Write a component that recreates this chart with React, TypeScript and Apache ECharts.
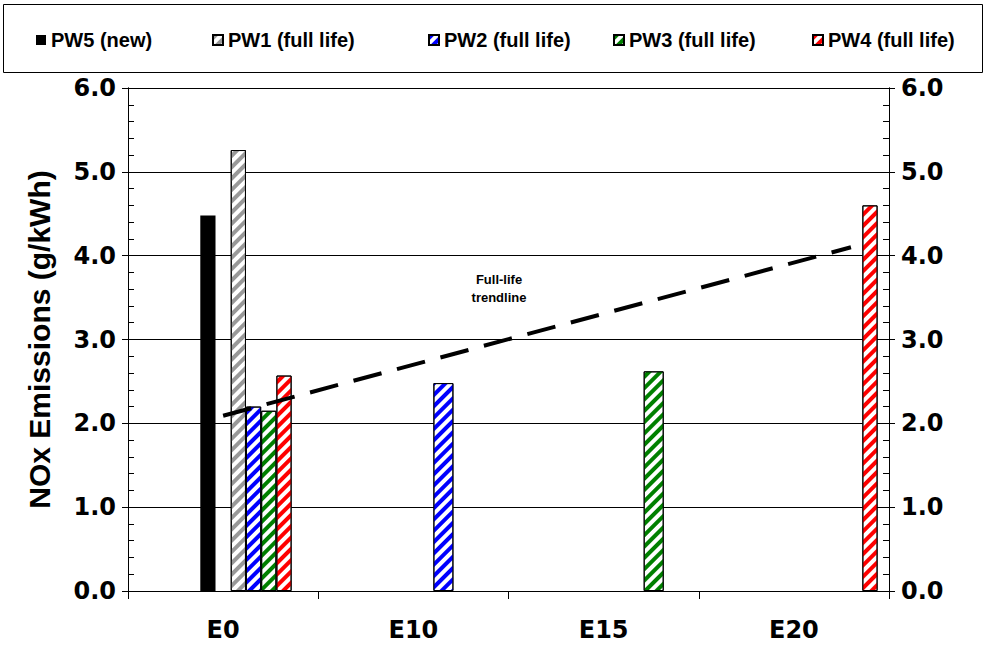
import React, { useEffect, useRef } from "react";
import * as echarts from "echarts";

// ---------- data ----------
const categories = ["E0", "E10", "E15", "E20"];
const pw5New = [4.48, null, null, null];
const pw1FullLife = [5.26, null, null, null];
const pw2FullLife = [2.2, 2.48, null, null];
const pw3FullLife = [2.15, null, 2.62, null];
const pw4FullLife = [2.57, null, null, 4.6];
// full-life trendline end points (x in category units, y in g/kWh)
const trendlineX = [0.5, 3.8];
const trendlineY = [2.09, 4.1];
const yMin = 0;
const yMax = 6;
const yStep = 1;

// ---------- layout ----------
const W = 985;
const H = 645;
const GRID = { left: 128, right: 96, top: 88, bottom: 54 };
const FONT = "'Liberation Sans', Arial, Helvetica, sans-serif";
const TICK_FONT = "'DejaVu Sans', 'Liberation Sans', Arial, sans-serif";
const catW = (W - GRID.left - GRID.right) / categories.length;
// Excel-like clustered layout (150% gap width): number of slots per cluster
const CLUSTERS: Record<string, { slots: number; axis: number }> = {
  narrow: { slots: 11, axis: 0 },
  wide: { slots: 8, axis: 1 },
};
// cluster & slot of each bar per category
const PLACEMENT: Record<string, ([string, number] | null)[]> = {
  "PW5 (new)": [["narrow", 4], null, null, null],
  "PW1 (full life)": [["narrow", 6], null, null, null],
  "PW2 (full life)": [["narrow", 7], ["wide", 5], null, null],
  "PW3 (full life)": [["narrow", 8], null, ["wide", 6], null],
  "PW4 (full life)": [["narrow", 9], null, null, ["narrow", 10]],
};
const SERIES_DEF = [
  { name: "PW5 (new)", values: pw5New, color: "#000000", hatch: false },
  { name: "PW1 (full life)", values: pw1FullLife, color: "#999999", hatch: true },
  { name: "PW2 (full life)", values: pw2FullLife, color: "#0000ff", hatch: true },
  { name: "PW3 (full life)", values: pw3FullLife, color: "#008000", hatch: true },
  { name: "PW4 (full life)", values: pw4FullLife, color: "#ff0000", hatch: true },
];
const LEGEND_LEFT = [36, 212, 428, 613, 812];

function slotPos(cat: number, n: number, slot: number) {
  return cat + (0.75 + slot + 0.5) / (n + 1.5);
}

function buildSeries() {
  const out: any[] = [];
  SERIES_DEF.forEach((d) => {
    Object.keys(CLUSTERS).forEach((key) => {
      const cl = CLUSTERS[key];
      const data: any[] = [];
      d.values.forEach((v, ci) => {
        const p = PLACEMENT[d.name][ci];
        if (v == null || !p || p[0] !== key) return;
        data.push([slotPos(ci, cl.slots, p[1]), v]);
      });
      if (!data.length) return;
      out.push({
        type: "bar",
        name: d.name,
        xAxisIndex: cl.axis,
        yAxisIndex: 0,
        barWidth: catW / (cl.slots + 1.5),
        barGap: "-100%",
        data,
        z: 2,
        itemStyle: d.hatch
          ? {
              color: "#ffffff",
              borderColor: "#000000",
              borderWidth: 1,
              decal: {
                symbol: "rect",
                symbolSize: 1,
                dashArrayX: [1, 0],
                dashArrayY: [3.2, 3.4],
                rotation: -Math.PI / 4,
                color: d.color,
                backgroundColor: "#ffffff",
              },
            }
          : { color: d.color, borderWidth: 0 },
      });
    });
  });
  out.push({
    type: "line",
    name: "trend",
    xAxisIndex: 0,
    yAxisIndex: 0,
    data: trendlineX.map((x, i) => [x, trendlineY[i]]),
    symbol: "none",
    z: 5,
    lineStyle: { color: "#000", width: 4, type: [29, 16], cap: "butt" },
  });
  return out;
}

const tickFont = { fontFamily: TICK_FONT, fontWeight: "bold" as const, fontSize: 24, color: "#000" };

function yAx(position: "left" | "right", main: boolean) {
  return {
    type: "value",
    position,
    min: yMin,
    max: yMax,
    interval: yStep,
    axisLine: { show: true, lineStyle: { color: "#000", width: 1 } },
    axisTick: main
      ? { show: true, inside: false, length: 6, lineStyle: { color: "#000" } }
      : { show: true, inside: true, length: 6, lineStyle: { color: "#000" } },
    minorTick: main
      ? { show: false }
      : { show: true, splitNumber: 5, length: 6, lineStyle: { color: "#000" } },
    axisLabel: main
      ? { show: true, margin: 12, formatter: (v: number) => v.toFixed(1), ...tickFont }
      : { show: false },
    splitLine: { show: main && position === "left", lineStyle: { color: "#000", width: 1 } },
    name: main && position === "left" ? "NOx Emissions (g/kWh)" : "",
    nameLocation: "middle",
    nameGap: 74,
    nameTextStyle: { fontFamily: FONT, fontWeight: "bold", fontSize: 30, color: "#000" },
  };
}

export default function App() {
  const ref = useRef<HTMLDivElement>(null);
  useEffect(() => {
    if (!ref.current) return;
    const chart = echarts.init(ref.current, null, { renderer: "svg" });
    chart.setOption({
      animation: false,
      backgroundColor: "#ffffff",
      grid: { ...GRID },
      xAxis: [
        { type: "value", min: 0, max: categories.length, show: false },
        { type: "value", min: 0, max: categories.length, show: false },
        {
          type: "category",
          data: categories,
          boundaryGap: true,
          position: "bottom",
          axisLine: { show: true, lineStyle: { color: "#000", width: 1 } },
          axisTick: { show: true, length: 8, interval: 0, lineStyle: { color: "#000" } },
          axisLabel: { margin: 27, ...tickFont },
          splitLine: { show: false },
        },
      ],
      yAxis: [yAx("left", true), yAx("left", false), yAx("right", true), yAx("right", false)],
      legend: SERIES_DEF.map((d, i) => ({
        data: [d.name],
        left: LEGEND_LEFT[i],
        top: 30,
        padding: 0,
        itemWidth: 10,
        itemHeight: 10,
        itemGap: 0,
        icon: "rect",
        selectedMode: false,
        textStyle: { fontFamily: FONT, fontWeight: "bold", fontSize: 20, color: "#000" },
      })),
      graphic: [
        {
          type: "rect",
          shape: { x: 3.5, y: 4.5, width: 979, height: 68 },
          style: { fill: "none", stroke: "#000", lineWidth: 1 },
          z: 0,
        },
        {
          type: "text",
          x: 499,
          y: 288,
          style: {
            text: "Full-life\ntrendline",
            fontFamily: FONT,
            fontWeight: "bold",
            fontSize: 13,
            lineHeight: 18,
            align: "center",
            verticalAlign: "middle",
            fill: "#000",
          },
        },
      ],
      series: buildSeries(),
    });
    return () => chart.dispose();
  }, []);
  return (
    <div
      ref={ref}
      style={{ position: "absolute", left: 0, top: 0, width: W, height: H, background: "#fff" }}
    />
  );
}
